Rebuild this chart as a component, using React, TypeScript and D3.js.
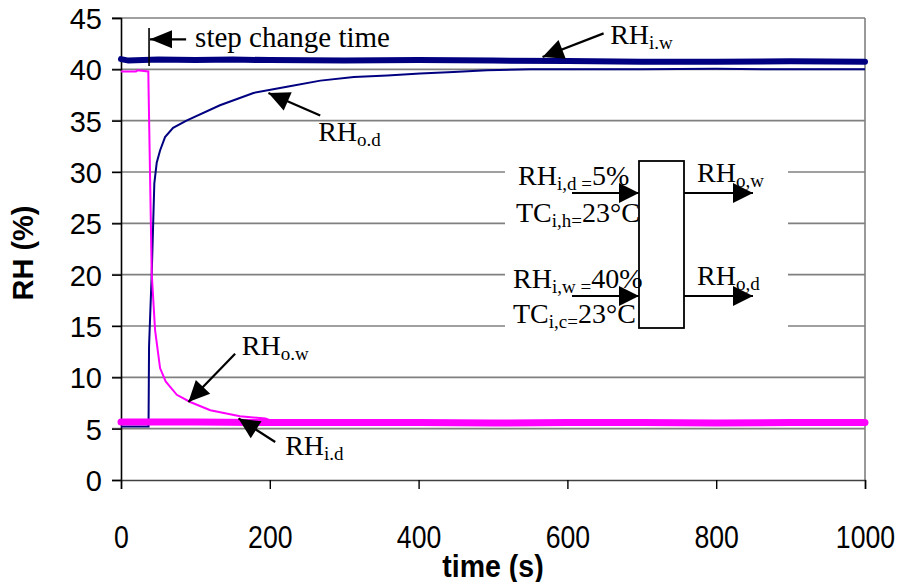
import React, { useEffect, useRef } from 'react';
import * as d3 from 'd3';

// axis ticks
const xTicks = [0, 200, 400, 600, 800, 1000];
const yTicks = [0, 5, 10, 15, 20, 25, 30, 35, 40, 45];

// RH i.w (thick navy, inlet wet)
const timeIW = [0, 10, 50, 100, 150, 200, 300, 400, 500, 600, 700, 800, 900, 1000];
const rhIW = [41.0, 40.85, 40.95, 40.9, 40.95, 40.9, 40.85, 40.9, 40.85, 40.8, 40.75, 40.75, 40.78, 40.75];

// RH i.d (thick magenta, inlet dry)
const timeID = [0, 100, 200, 300, 400, 500, 600, 700, 800, 900, 1000];
const rhID = [5.65, 5.65, 5.6, 5.6, 5.6, 5.55, 5.6, 5.6, 5.55, 5.6, 5.6];

// RH o.d (thin navy, outlet dry side)
const timeOD = [0, 37, 37.7, 41.3, 44.8, 48, 52.5, 59.2, 70, 88, 133, 178, 223, 268, 313, 358, 402, 447, 492, 550, 700, 800, 900, 1000];
const rhOD = [5.2, 5.2, 13, 20.1, 28.9, 30.9, 32.1, 33.4, 34.3, 35.0, 36.5, 37.7, 38.3, 38.9, 39.25, 39.4, 39.6, 39.75, 39.9, 40.0, 40.0, 40.05, 40.0, 40.0];

// RH o.w (thin magenta, outlet wet side)
const timeOW = [0, 20, 22, 36.7, 37.2, 41.3, 45.8, 52.5, 60, 75, 93, 120, 160, 194, 205, 1000];
const rhOW = [39.8, 39.8, 39.9, 39.8, 37.5, 20.1, 14.6, 10.9, 9.6, 8.3, 7.6, 6.8, 6.2, 6.0, 5.7, 5.7];

// curve labels, in data units: [time, RH]
const labelNames = ['i.w', 'o.d', 'o.w', 'i.d'];
const labelPos = [[657.5, 42.5], [265, 33.0], [162.4, 12.2], [220.7, 2.4]];
const arrowFrom = [[648.7, 43.5], [267.8, 35.5], [153.4, 12.3], [207.3, 3.7]];
const arrowTo = [[566.6, 41.2], [198.2, 37.7], [90.6, 7.6], [157.9, 6.0]];

const stepTime = 37.7;

const App = () => {
  const ref = useRef(null);

  useEffect(() => {
    document.body.style.margin = '0';
    const root = d3.select(ref.current);
    root.selectAll('*').remove();

    const width = 902;
    const height = 582;
    const marginLeft = 121;
    const marginRight = 37;
    const marginTop = 18;
    const marginBottom = 102;

    const x = d3.scaleLinear().domain([0, 1000]).range([marginLeft, width - marginRight]);
    const y = d3.scaleLinear().domain([0, 45]).range([height - marginBottom, marginTop]);

    const svg = root.append('svg')
      .attr('width', width)
      .attr('height', height)
      .attr('viewBox', [0, 0, width, height])
      .style('display', 'block')
      .style('background', '#fff');

    // gridlines
    svg.append('g')
      .selectAll('line')
      .data(yTicks.filter(d => d > 0))
      .join('line')
      .attr('x1', x(0) - 9)
      .attr('x2', x(1000))
      .attr('y1', d => y(d))
      .attr('y2', d => y(d))
      .attr('stroke', '#808080')
      .attr('stroke-width', 1.6);

    // right border
    svg.append('line')
      .attr('x1', x(1000)).attr('x2', x(1000))
      .attr('y1', y(45)).attr('y2', y(0))
      .attr('stroke', '#808080').attr('stroke-width', 1.6);

    // white box behind the schematic
    svg.append('rect')
      .attr('x', 505).attr('y', 140).attr('width', 283).attr('height', 198)
      .attr('fill', '#fff');

    // axes
    const yAxis = svg.append('g')
      .attr('transform', `translate(${marginLeft},0)`)
      .call(d3.axisLeft(y).tickValues(yTicks).tickSize(9).tickPadding(10));
    yAxis.select('.domain').attr('stroke', '#000').attr('stroke-width', 1.6);
    yAxis.selectAll('.tick line').attr('stroke', '#000').attr('stroke-width', 1.4);
    yAxis.selectAll('.tick text')
      .attr('font-family', 'Liberation Sans, Arial, sans-serif')
      .attr('font-size', 29)
      .attr('fill', '#000')
      .attr('dy', '0.36em');

    const xAxis = svg.append('g')
      .attr('transform', `translate(0,${height - marginBottom})`)
      .call(d3.axisBottom(x).tickValues(xTicks).tickSize(9).tickPadding(37).tickFormat(d3.format('d')));
    xAxis.select('.domain').attr('stroke', '#404040').attr('stroke-width', 1.6);
    xAxis.selectAll('.tick line').attr('stroke', '#000').attr('stroke-width', 1.4);
    xAxis.selectAll('.tick text')
      .attr('font-family', 'Liberation Sans, Arial, sans-serif')
      .attr('font-size', 31)
      .attr('fill', '#000')
      .attr('dy', '0.71em')
      .attr('transform', 'scale(0.86,1)');

    // axis titles
    svg.append('text')
      .attr('transform', `translate(33,${(y(45) + y(0)) / 2 + 4}) rotate(-90)`)
      .attr('text-anchor', 'middle')
      .attr('font-family', 'Liberation Sans, Arial, sans-serif')
      .attr('font-weight', 'bold')
      .attr('font-size', 29)
      .text('RH (%)');

    svg.append('text')
      .attr('x', (x(0) + x(1000)) / 2)
      .attr('y', 577)
      .attr('text-anchor', 'middle')
      .attr('font-family', 'Liberation Sans, Arial, sans-serif')
      .attr('font-weight', 'bold')
      .attr('font-size', 31)
      .attr('transform', `translate(${(x(0) + x(1000)) / 2 * 0.08},0) scale(0.92,1)`)
      .text('time (s)');

    const line = d3.line().x(d => x(d[0])).y(d => y(d[1]));
    const zip = (ts, vs) => ts.map((t, i) => [t, vs[i]]);

    // thick inlet lines and thin outlet lines
    svg.append('path')
      .datum(zip(timeIW, rhIW))
      .attr('fill', 'none').attr('stroke', '#000080').attr('stroke-width', 6)
      .attr('stroke-linecap', 'round')
      .attr('d', line);
    svg.append('path')
      .datum(zip(timeOD, rhOD))
      .attr('fill', 'none').attr('stroke', '#000080').attr('stroke-width', 2)
      .attr('d', line);
    svg.append('path')
      .datum(zip(timeID, rhID))
      .attr('fill', 'none').attr('stroke', '#ff00ff').attr('stroke-width', 7)
      .attr('stroke-linecap', 'round')
      .attr('d', line);
    svg.append('path')
      .datum(zip(timeOW, rhOW))
      .attr('fill', 'none').attr('stroke', '#ff00ff').attr('stroke-width', 2)
      .attr('d', line);

    const serif = 'Liberation Serif, Times New Roman, serif';

    const arrow = (x1, y1, x2, y2, head = 21, half = 10) => {
      svg.append('line')
        .attr('x1', x1).attr('y1', y1).attr('x2', x2).attr('y2', y2)
        .attr('stroke', '#000').attr('stroke-width', 2.2);
      const a = Math.atan2(y2 - y1, x2 - x1);
      const bx = x2 - head * Math.cos(a);
      const by = y2 - head * Math.sin(a);
      const px = -Math.sin(a) * half;
      const py = Math.cos(a) * half;
      svg.append('path')
        .attr('d', `M${x2},${y2}L${bx + px},${by + py}L${bx - px},${by - py}Z`)
        .attr('fill', '#000');
    };

    const subText = (tx, ty, parts, size = 28) => {
      const t = svg.append('text')
        .attr('x', tx).attr('y', ty)
        .attr('font-family', serif)
        .attr('font-size', size)
        .attr('fill', '#000');
      let shift = 0;
      parts.forEach(([s, sub]) => {
        const target = sub ? 5 : 0;
        t.append('tspan')
          .attr('font-size', sub ? 19 : size)
          .attr('dy', target - shift)
          .text(s);
        shift = target;
      });
    };

    // step change marker
    svg.append('line')
      .attr('x1', x(stepTime)).attr('x2', x(stepTime))
      .attr('y1', y(44.02)).attr('y2', y(40.32))
      .attr('stroke', '#000').attr('stroke-width', 1.6);
    arrow(x(87.5), y(42.92), x(39.0), y(42.92), 22, 9);
    svg.append('text')
      .attr('x', x(99.6)).attr('y', y(42.2))
      .attr('font-family', serif)
      .attr('font-size', 29)
      .text('step change time');

    // curve labels
    labelNames.forEach((n, i) => {
      arrow(x(arrowFrom[i][0]), y(arrowFrom[i][1]), x(arrowTo[i][0]), y(arrowTo[i][1]));
      subText(x(labelPos[i][0]), y(labelPos[i][1]), [['RH', false], [n, true]]);
    });

    // schematic of the exchanger
    svg.append('rect')
      .attr('x', 639).attr('y', 161).attr('width', 45).attr('height', 167)
      .attr('fill', '#fff').attr('stroke', '#000').attr('stroke-width', 1.8);
    arrow(572, 193, 639, 193, 20, 10);
    arrow(572, 296, 639, 296, 20, 10);
    arrow(684, 193, 753, 193, 20, 10);
    arrow(684, 296, 753, 296, 20, 10);
    subText(518, 185, [['RH', false], ['i,d =', true], ['5%', false]]);
    subText(516, 222, [['TC', false], ['i,h=', true], ['23°C', false]]);
    subText(513, 288, [['RH', false], ['i,w =', true], ['40%', false]]);
    subText(513, 323, [['TC', false], ['i,c=', true], ['23°C', false]]);
    subText(697, 182, [['RH', false], ['o,w', true]]);
    subText(697, 285, [['RH', false], ['o,d', true]]);
  }, []);

  return <div ref={ref}></div>;
};

export default App;
